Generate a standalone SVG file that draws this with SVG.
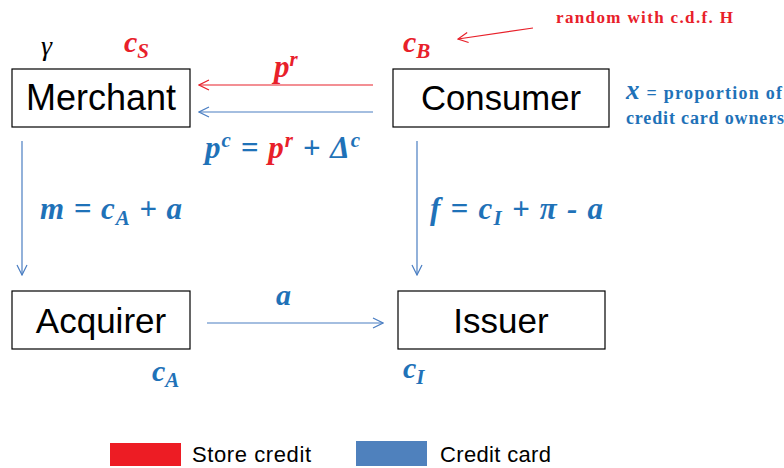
<svg xmlns="http://www.w3.org/2000/svg" width="784" height="468" viewBox="0 0 784 468">
  <style>
    .box { fill: #ffffff; stroke: #000000; stroke-width: 1.2; }
    .lbl { font-family: "Liberation Sans", Arial, sans-serif; font-size: 35px; fill: #000000; text-anchor: middle; }
    .math { font-family: "Liberation Serif", "Times New Roman", serif; font-weight: bold; font-style: italic; font-size: 30px; }
    .note { font-family: "Liberation Serif", "Times New Roman", serif; font-weight: bold; font-size: 18px; }
    .red { fill: #E8202A; }
    .blue { fill: #1F72B8; }
    .leg { font-family: "Liberation Sans", Arial, sans-serif; font-size: 22px; fill: #000000; }
    .cr { stroke: #E8202A; stroke-width: 1.2; fill: none; }
    .cb { stroke: #4A7EC2; stroke-width: 1.2; fill: none; }
  </style>
  <defs>
    <marker id="hr" viewBox="0 0 12 12" refX="11" refY="6" markerWidth="12" markerHeight="12" markerUnits="userSpaceOnUse" orient="auto">
      <path d="M1,1 L11,6 L1,11" fill="none" stroke="#E8202A" stroke-width="1.2"/>
    </marker>
    <marker id="hb" viewBox="0 0 12 12" refX="11" refY="6" markerWidth="12" markerHeight="12" markerUnits="userSpaceOnUse" orient="auto">
      <path d="M1,1 L11,6 L1,11" fill="none" stroke="#4A7EC2" stroke-width="1.2"/>
    </marker>
  </defs>

  <!-- connectors -->
  <g id="connectors">
    <line class="cr" x1="373" y1="85" x2="199" y2="85" marker-end="url(#hr)"/>
    <line class="cb" x1="373" y1="112" x2="199" y2="112" marker-end="url(#hb)"/>
    <line class="cb" x1="22" y1="141" x2="22" y2="275" marker-end="url(#hb)"/>
    <line class="cb" x1="417" y1="141" x2="417" y2="275" marker-end="url(#hb)"/>
    <line class="cb" x1="207" y1="323" x2="383" y2="323" marker-end="url(#hb)"/>
    <line class="cr" x1="533" y1="28" x2="458" y2="39" marker-end="url(#hr)"/>
  </g>

  <!-- nodes -->
  <g id="merchant">
    <rect class="box" x="12" y="69" width="178" height="58"/>
    <text class="lbl" x="101" y="110" style="font-size:36px">Merchant</text>
  </g>
  <g id="consumer">
    <rect class="box" x="393" y="69" width="216" height="58"/>
    <text class="lbl" x="501" y="110" textLength="160" lengthAdjust="spacingAndGlyphs">Consumer</text>
  </g>
  <g id="acquirer">
    <rect class="box" x="12" y="291" width="178" height="58"/>
    <text class="lbl" x="101" y="333">Acquirer</text>
  </g>
  <g id="issuer">
    <rect class="box" x="398" y="291" width="207" height="58"/>
    <text class="lbl" x="501" y="333">Issuer</text>
  </g>

  <!-- parameters -->
  <g id="labels">
    <text class="math" x="41" y="55" style="font-size:28px;font-weight:normal" fill="#000000">γ</text>
    <text class="math red" x="124" y="52">c<tspan font-size="21" dy="6">S</tspan></text>
    <text class="math red" x="403" y="52">c<tspan font-size="21" dy="6">B</tspan></text>
    <text class="note red" x="556" y="23" style="font-size:17px" textLength="177">random with c.d.f. H</text>

    <text class="math red" x="274" y="77" style="font-size:31px">p<tspan font-size="21" dy="-11">r</tspan></text>
    <text class="math blue" x="205" y="158" style="font-size:31px" textLength="155">p<tspan font-size="21" dy="-11">c</tspan><tspan dy="11"> = </tspan><tspan class="red">p</tspan><tspan class="red" font-size="21" dy="-11">r</tspan><tspan dy="11"> + Δ</tspan><tspan font-size="21" dy="-11">c</tspan></text>

    <text class="note blue" x="626" y="99" textLength="156"><tspan class="math" style="font-size:27px">x</tspan> = proportion of</text>
    <text class="note blue" x="626" y="124" textLength="158">credit card owners</text>

    <text class="math blue" x="40" y="219" style="font-size:31px" textLength="142">m = c<tspan font-size="21" dy="6">A</tspan><tspan dy="-6"> + a</tspan></text>
    <text class="math blue" x="430" y="219" style="font-size:31px" textLength="173">f = c<tspan font-size="21" dy="6">I</tspan><tspan dy="-6"> + π - a</tspan></text>

    <text class="math blue" x="276" y="305">a</text>
    <text class="math blue" x="152" y="381">c<tspan font-size="21" dy="6">A</tspan></text>
    <text class="math blue" x="403" y="378">c<tspan font-size="21" dy="6">I</tspan></text>
  </g>

  <!-- legend -->
  <g id="legend">
    <rect x="110" y="443" width="71" height="23" fill="#ED1C24"/>
    <text class="leg" x="192" y="462" textLength="119">Store credit</text>
    <rect x="356" y="441" width="71" height="25" fill="#4F81BD"/>
    <text class="leg" x="440" y="462" textLength="111">Credit card</text>
  </g>
</svg>
